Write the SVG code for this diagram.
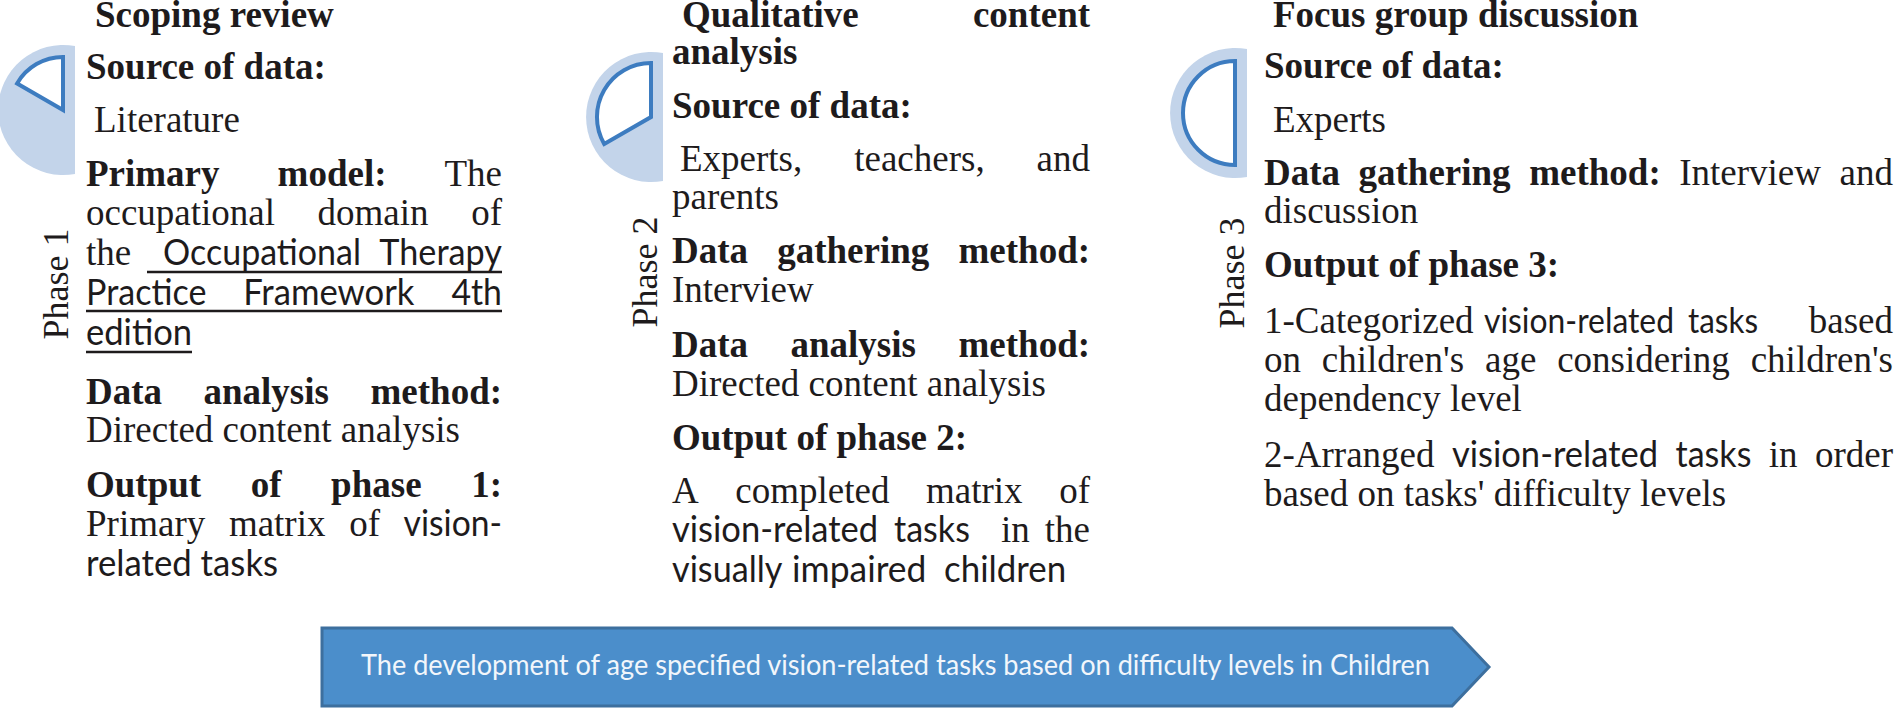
<svg xmlns="http://www.w3.org/2000/svg" width="1896" height="708" viewBox="0 0 1896 708">
<style>
.b{font-family:"Liberation Serif","Times New Roman",serif;font-weight:bold;font-size:37px;fill:#1e1b1c}
.r{font-family:"Liberation Serif","Times New Roman",serif;font-size:37px;fill:#1e1b1c}
.s{font-family:Lato,"Open Sans",sans-serif;font-size:37px;fill:#1e1b1c}
.s2{font-family:Lato,"Open Sans",sans-serif;font-size:34px;fill:#1e1b1c}
.ph{font-family:"Liberation Serif","Times New Roman",serif;font-size:36px;fill:#1e1b1c}
.ul{stroke:#1e1b1c;stroke-width:2.5}
.disc{fill:#c3d4ea}
.sector{fill:#ffffff;stroke:#3d7cc0;stroke-width:4;stroke-linejoin:miter}
.arrow{fill:#4b8ecb;stroke:#3d6f9e;stroke-width:3}
.at{font-family:Lato,"Open Sans",sans-serif;font-size:28px;fill:#f2f6fb}
</style>
<rect width="1896" height="708" fill="#ffffff"/>

<g id="phase1">
  <path class="disc" d="M75,46.1 A65,65 0 1 0 75,173.9 Z"/>
  <path class="sector" d="M63,110 L63,57 A53,53 0 0 0 17.1,83.5 Z"/>
  <text class="ph" transform="translate(68,284) rotate(-90)" text-anchor="middle">Phase 1</text>
  <text class="b" x="95" y="27">Scoping review</text>
  <text class="b" x="86" y="79">Source of data:</text>
  <text class="r" x="94" y="132">Literature</text>
  <text y="186"><tspan class="b" x="86">Primary</tspan><tspan class="b" x="277.6">model:</tspan><tspan class="r" x="444.5">The</tspan></text>
  <text class="r" y="225"><tspan x="86">occupational</tspan><tspan x="317.6">domain</tspan><tspan x="471.2">of</tspan></text>
  <text class="r" x="86" y="265">the</text>
  <text class="s" x="163" y="265" textLength="198" lengthAdjust="spacingAndGlyphs">Occupational</text>
  <text class="s" x="379.3" y="265" textLength="122.7" lengthAdjust="spacingAndGlyphs">Therapy</text>
  <line class="ul" x1="147" y1="272" x2="502" y2="272"/>
  <text class="s" x="86" y="305" textLength="120.4" lengthAdjust="spacingAndGlyphs">Practice</text>
  <text class="s" x="243.2" y="305" textLength="171.3" lengthAdjust="spacingAndGlyphs">Framework</text>
  <text class="s" x="451.4" y="305" textLength="50.6" lengthAdjust="spacingAndGlyphs">4th</text>
  <line class="ul" x1="86" y1="311" x2="502" y2="311"/>
  <text class="s" x="86" y="345" textLength="106.1" lengthAdjust="spacingAndGlyphs">edition</text>
  <line class="ul" x1="86" y1="352" x2="192" y2="352"/>
  <text class="b" y="404"><tspan x="86">Data</tspan><tspan x="203.5">analysis</tspan><tspan x="370.5">method:</tspan></text>
  <text class="r" x="86" y="442">Directed content analysis</text>
  <text class="b" y="497"><tspan x="86">Output</tspan><tspan x="250.7">of</tspan><tspan x="331.1">phase</tspan><tspan x="471.2">1:</tspan></text>
  <text class="r" y="536"><tspan x="86">Primary</tspan><tspan x="228.9">matrix</tspan><tspan x="349.2">of</tspan></text>
  <text class="s" x="403.6" y="536" textLength="98.4" lengthAdjust="spacingAndGlyphs">vision-</text>
  <text class="s" x="86" y="576" textLength="192.1" lengthAdjust="spacingAndGlyphs">related tasks</text>
</g>

<g id="phase2">
  <path class="disc" d="M663,53.1 A65,65 0 1 0 663,180.9 Z"/>
  <path class="sector" d="M651,117 L651,63 A54,54 0 0 0 604.2,144 Z"/>
  <text class="ph" transform="translate(657,272) rotate(-90)" text-anchor="middle">Phase 2</text>
  <text class="b" y="27"><tspan x="682">Qualitative</tspan><tspan x="972.9">content</tspan></text>
  <text class="b" x="672" y="64">analysis</text>
  <text class="b" x="672" y="118">Source of data:</text>
  <text class="r" y="171"><tspan x="680">Experts,</tspan><tspan x="854.2">teachers,</tspan><tspan x="1036.6">and</tspan></text>
  <text class="r" x="672" y="209">parents</text>
  <text class="b" y="263"><tspan x="672">Data</tspan><tspan x="777.2">gathering</tspan><tspan x="958.5">method:</tspan></text>
  <text class="r" x="672" y="302">Interview</text>
  <text class="b" y="357"><tspan x="672">Data</tspan><tspan x="790.5">analysis</tspan><tspan x="958.5">method:</tspan></text>
  <text class="r" x="672" y="396">Directed content analysis</text>
  <text class="b" x="672" y="450">Output of phase 2:</text>
  <text class="r" y="503"><tspan x="672">A</tspan><tspan x="735.3">completed</tspan><tspan x="926">matrix</tspan><tspan x="1059.2">of</tspan></text>
  <text class="s" x="672" y="542" textLength="206.2" lengthAdjust="spacingAndGlyphs">vision-related</text>
  <text class="s" x="894" y="542" textLength="75.9" lengthAdjust="spacingAndGlyphs">tasks</text>
  <text class="r" y="542"><tspan x="1001">in</tspan><tspan x="1044.8">the</tspan></text>
  <text class="s" x="672" y="582" textLength="110.5" lengthAdjust="spacingAndGlyphs">visually</text>
  <text class="s" x="792" y="582" textLength="134.4" lengthAdjust="spacingAndGlyphs">impaired</text>
  <text class="s" x="944" y="582" textLength="122.2" lengthAdjust="spacingAndGlyphs">children</text>
</g>

<g id="phase3">
  <path class="disc" d="M1247,49.1 A65,65 0 1 0 1247,176.9 Z"/>
  <path class="sector" d="M1235,61 A52,52 0 0 0 1235,165 Z"/>
  <text class="ph" transform="translate(1244,273) rotate(-90)" text-anchor="middle">Phase 3</text>
  <text class="b" x="1273" y="27">Focus group discussion</text>
  <text class="b" x="1264" y="78">Source of data:</text>
  <text class="r" x="1273" y="132">Experts</text>
  <text y="185"><tspan class="b" x="1264">Data</tspan><tspan class="b" x="1358.5">gathering</tspan><tspan class="b" x="1529.2">method:</tspan><tspan class="r" x="1679.2">Interview</tspan><tspan class="r" x="1839.6">and</tspan></text>
  <text class="r" x="1264" y="223">discussion</text>
  <text class="b" x="1264" y="277">Output of phase 3:</text>
  <text class="r" x="1264" y="333">1-Categorized</text>
  <text class="s2" x="1484" y="333" textLength="190" lengthAdjust="spacingAndGlyphs">vision-related</text>
  <text class="s2" x="1688" y="333" textLength="70" lengthAdjust="spacingAndGlyphs">tasks</text>
  <text class="r" x="1808.8" y="333">based</text>
  <text class="r" y="372"><tspan x="1264">on</tspan><tspan x="1321.8">children's</tspan><tspan x="1485">age</tspan><tspan x="1557.2">considering</tspan><tspan x="1750.7">children's</tspan></text>
  <text class="r" x="1264" y="411">dependency level</text>
  <text class="r" x="1264" y="467">2-Arranged</text>
  <text class="s" x="1451.9" y="467" textLength="206.2" lengthAdjust="spacingAndGlyphs">vision-related</text>
  <text class="s" x="1675.5" y="467" textLength="75.9" lengthAdjust="spacingAndGlyphs">tasks</text>
  <text class="r" y="467"><tspan x="1768.8">in</tspan><tspan x="1814.9">order</tspan></text>
  <text class="r" x="1264" y="506">based on tasks' difficulty levels</text>
</g>

<g id="timeline-arrow">
  <path class="arrow" d="M322,628 H1452 L1489,667 L1452,706 H322 Z"/>
  <text class="at" x="361" y="675" textLength="1069" lengthAdjust="spacingAndGlyphs">The development of age specified vision-related tasks based on difficulty levels in Children</text>
</g>

<g id="connectors"></g>
</svg>
